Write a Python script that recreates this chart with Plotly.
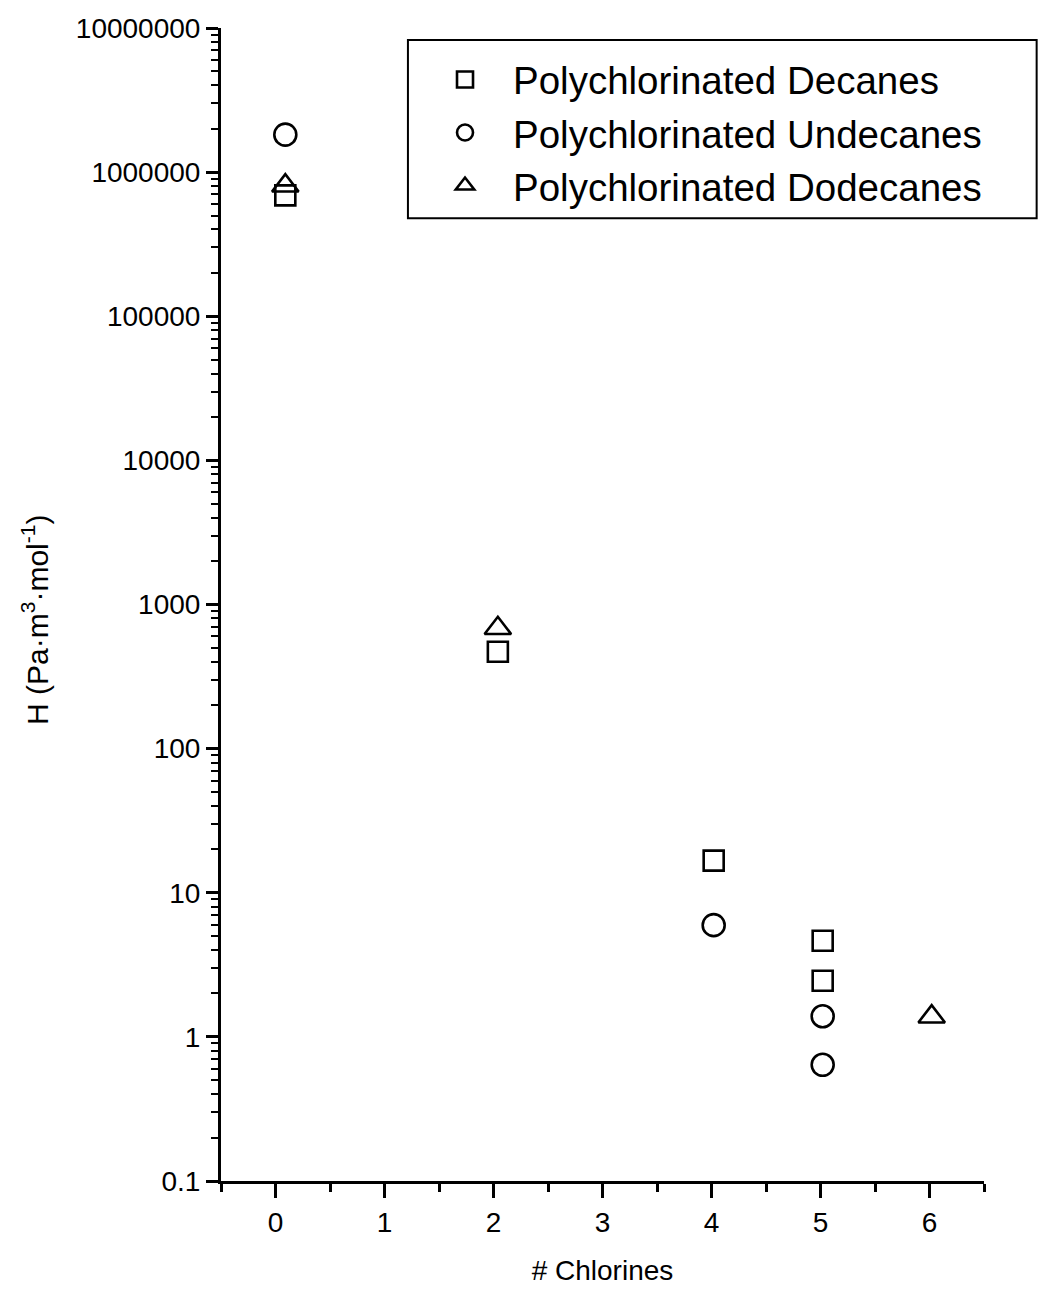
import plotly.graph_objects as go

# Henry's law constants vs. number of chlorine atoms
dec_x = [0.09, 2.04, 4.02, 5.02, 5.02]
dec_h = [6.9e5, 470, 16.7, 4.64, 2.45]

undec_x = [0.09, 4.02, 5.02, 5.02]
undec_h = [1.82e6, 5.96, 1.39, 0.64]

dodec_x = [0.09, 2.04, 6.02]
dodec_h = [8.05e5, 684, 1.38]

y_tickvals = [0.1, 1, 10, 100, 1000, 10000, 100000, 1000000, 10000000]
y_ticktext = ["0.1", "1", "10", "100", "1000", "10000", "100000", "1000000", "10000000"]
x_tickvals = [0, 1, 2, 3, 4, 5, 6]

FONT = "Liberation Sans, Arial, sans-serif"

fig = go.Figure()

series = [
    ("Polychlorinated Decanes", dec_x, dec_h, "square-open", 20),
    ("Polychlorinated Undecanes", undec_x, undec_h, "circle-open", 22),
    ("Polychlorinated Dodecanes", dodec_x, dodec_h, "triangle-up-open", 23),
]
for name, xs, ys, sym, size in series:
    fig.add_trace(go.Scatter(
        x=xs, y=ys, mode="markers", name=name,
        marker=dict(symbol=sym, size=size, color="black",
                    line=dict(color="black", width=2.6)),
    ))

# Frame around the legend (extends to the right of the plotting area)
fig.add_shape(
    type="rect", xref="paper", yref="paper",
    x0=0.245, x1=1.069, y0=0.835, y1=0.9896,
    line=dict(color="black", width=2), fillcolor="white", layer="above",
)

# Y-axis title, placed as a rotated annotation
fig.add_annotation(
    text="H (Pa·m<sup>3</sup>·mol<sup>-1</sup>)",
    xref="paper", yref="paper", x=-0.2438, y=0.4866,
    xanchor="center", yanchor="middle", textangle=-90, showarrow=False,
    font=dict(family=FONT, size=30, color="black"),
)

fig.update_layout(
    width=1040, height=1289,
    margin=dict(l=221, r=56, t=28, b=108),
    paper_bgcolor="white", plot_bgcolor="white",
    font=dict(family=FONT, color="black", size=28),
    showlegend=True,
    legend=dict(
        x=0.2569, y=0.9827, xanchor="left", yanchor="top",
        borderwidth=0, bgcolor="rgba(0,0,0,0)",
        font=dict(family=FONT, size=38.5, color="black"),
        itemwidth=86,
    ),
)

fig.update_xaxes(
    range=[-0.5, 6.5], tickvals=x_tickvals, automargin=False,
    showline=True, linecolor="black", linewidth=3, mirror=False,
    ticks="outside", ticklen=14, tickwidth=3, tickcolor="black",
    minor=dict(ticks="outside", ticklen=8, tickwidth=3, tickcolor="black", dtick=0.5, showgrid=False),
    showgrid=False, zeroline=False,
    tickfont=dict(size=28),
    title=dict(text="# Chlorines", font=dict(size=28), standoff=24),
)

fig.update_yaxes(
    type="log", range=[-1, 7], tickvals=y_tickvals, ticktext=y_ticktext, automargin=False,
    showline=True, linecolor="black", linewidth=3, mirror=False,
    ticks="outside", ticklen=12, tickwidth=3, tickcolor="black",
    minor=dict(ticks="outside", ticklen=7, tickwidth=2, tickcolor="black", dtick="D1", showgrid=False),
    showgrid=False, zeroline=False,
    tickfont=dict(size=28),
)

fig.write_html("out.html")
